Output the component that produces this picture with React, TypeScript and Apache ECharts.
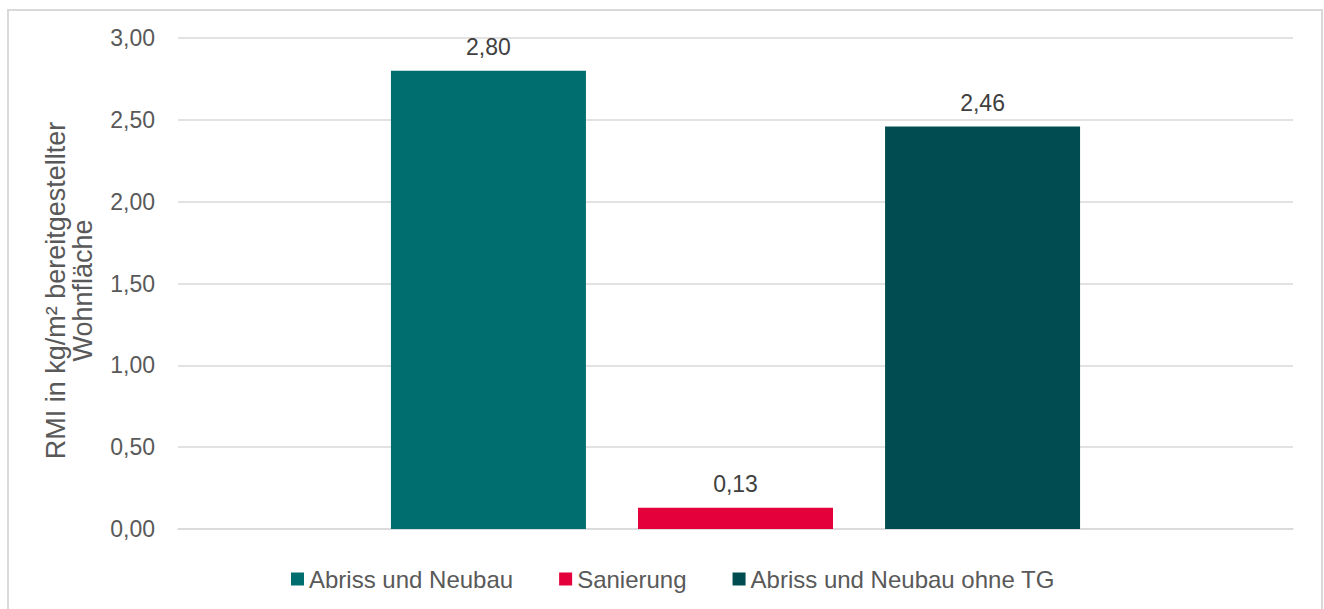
import React, { useEffect, useRef } from "react";
import * as echarts from "echarts";

const categories = [""];
const seriesNames = ["Abriss und Neubau", "Sanierung", "Abriss und Neubau ohne TG"];
const seriesValues = [2.8, 0.13, 2.46];
const seriesColors = ["#006E6F", "#E4003B", "#004C50"];
const yTicks = { min: 0, max: 3, interval: 0.5 };
const yAxisTitle = "RMI in kg/m² bereitgestellter\nWohnfläche";

const fmt = (v: number) => v.toFixed(2).replace(".", ",");

export default function App() {
  const ref = useRef<HTMLDivElement>(null);
  useEffect(() => {
    if (!ref.current) return;
    const chart = echarts.init(ref.current, undefined, { renderer: "svg" });
    const font = "'Liberation Sans', Arial, sans-serif";
    chart.setOption({
      animation: false,
      textStyle: { fontFamily: font },
      graphic: [
        {
          type: "rect",
          shape: { x: 8, y: 10, width: 1314, height: 620 },
          style: { fill: "none", stroke: "#d9d9d9", lineWidth: 2 },
          silent: true,
        },
      ],
      grid: { left: 178, right: 31, top: 38, bottom: 80, containLabel: false },
      legend: {
        top: 567,
        left: 291,
        padding: 0,
        itemWidth: 13,
        itemHeight: 13,
        itemGap: 46,
        icon: "rect",
        textStyle: { color: "#595959", fontSize: 24, fontFamily: font },
        data: seriesNames,
      },
      xAxis: {
        type: "category",
        data: categories,
        axisLine: { show: true, lineStyle: { color: "#d9d9d9", width: 1.5 } },
        axisTick: { show: false },
        axisLabel: { show: false },
      },
      yAxis: {
        type: "value",
        min: yTicks.min,
        max: yTicks.max,
        interval: yTicks.interval,
        name: yAxisTitle,
        nameLocation: "middle",
        nameGap: 82,
        nameTextStyle: {
          color: "#595959",
          fontSize: 27,
          fontFamily: font,
          lineHeight: 27,
          padding: [0, 14, 0, 0],
        },
        axisLine: { show: false },
        axisTick: { show: false },
        axisLabel: {
          color: "#595959",
          fontSize: 23,
          fontFamily: font,
          margin: 23,
          formatter: (v: number) => fmt(v),
        },
        splitLine: { lineStyle: { color: "#d9d9d9", width: 1.5 } },
      },
      series: seriesNames.map((name, i) => ({
        name,
        type: "bar",
        data: [seriesValues[i]],
        barWidth: 195,
        barGap: "26.7%",
        itemStyle: { color: seriesColors[i] },
        label: {
          show: true,
          position: "top",
          distance: 12,
          color: "#404040",
          fontSize: 23,
          fontFamily: font,
          formatter: (p: any) => fmt(p.value),
        },
      })),
    });
    return () => chart.dispose();
  }, []);
  return (
    <div
      ref={ref}
      style={{ position: "absolute", left: 0, top: 0, width: 1324, height: 609, background: "#fff" }}
    />
  );
}
